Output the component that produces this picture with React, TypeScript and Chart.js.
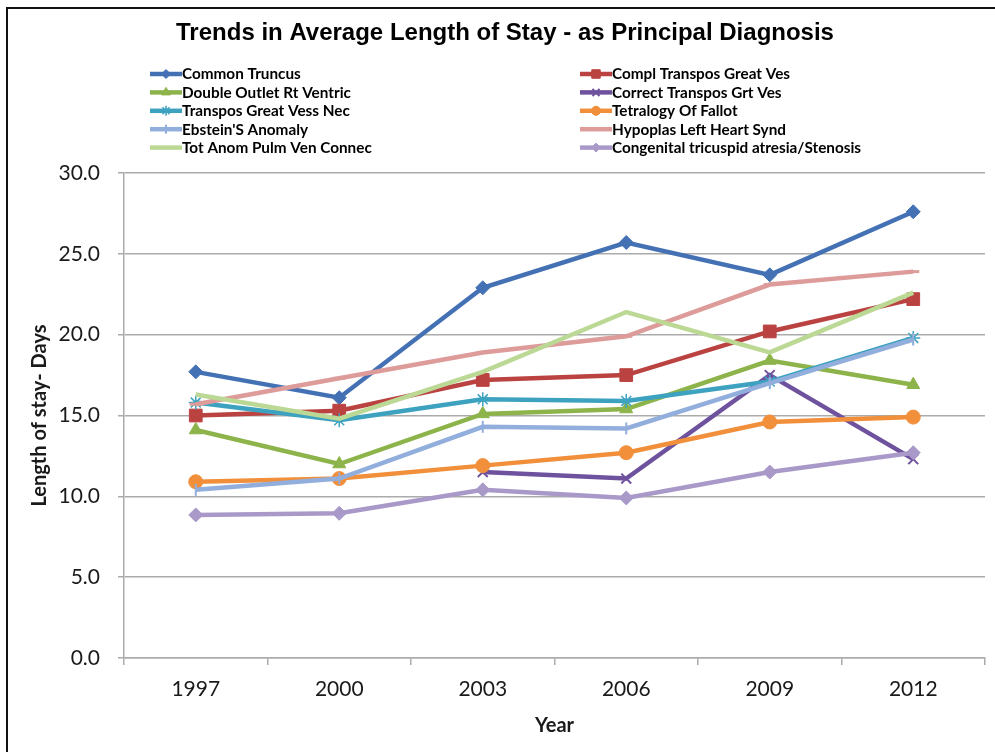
import { useEffect, useRef } from 'react';
import { Chart, registerables } from 'chart.js';
import { drawPoint } from 'chart.js/helpers';

Chart.register(...registerables);

// Survey years on the category axis
const years = ['1997', '2000', '2003', '2006', '2009', '2012'];

// Average length of stay (days) per diagnosis
const commonTruncus = [17.7, 16.1, 22.9, 25.7, 23.7, 27.6];
const complTransposGreatVes = [15.0, 15.3, 17.2, 17.5, 20.2, 22.2];
const doubleOutletRtVentric = [14.1, 12.0, 15.1, 15.4, 18.4, 16.9];
const correctTransposGrtVes = [null, null, 11.5, 11.1, 17.5, 12.3];
const transposGreatVessNec = [15.8, 14.7, 16.0, 15.9, 17.1, 19.8];
const tetralogyOfFallot = [10.9, 11.1, 11.9, 12.7, 14.6, 14.9];
const ebsteinsAnomaly = [10.4, 11.1, 14.3, 14.2, 17.0, 19.7];
const hypoplasLeftHeart = [15.7, 17.3, 18.9, 19.9, 23.1, 23.9];
const totAnomPulmVen = [16.3, 14.8, 17.7, 21.4, 18.9, 22.6];
const congenitalTricuspid = [8.85, 8.95, 10.4, 9.9, 11.5, 12.7];

// Value axis ticks
const yMin = 0;
const yMax = 30;
const yStep = 5;

const chartTitle = 'Trends in Average Length of Stay - as Principal Diagnosis';
const yTitle = 'Length of stay- Days';
const xTitle = 'Year';

type SeriesDef = {
  label: string;
  data: (number | null)[];
  color: string;
  pointStyle: any;
  radius: number;
  rotation?: number;
  pointBorderWidth: number;
  legendRadius: number;
};

const series: SeriesDef[] = [
  { label: 'Common Truncus', data: commonTruncus, color: '#4371B4', pointStyle: 'rectRot', radius: 7, pointBorderWidth: 1, legendRadius: 4.5 },
  { label: 'Compl Transpos Great Ves', data: complTransposGreatVes, color: '#BA4341', pointStyle: 'rect', radius: 9, pointBorderWidth: 1, legendRadius: 6 },
  { label: 'Double Outlet Rt Ventric', data: doubleOutletRtVentric, color: '#8DB44B', pointStyle: 'triangle', radius: 7.5, pointBorderWidth: 1, legendRadius: 5 },
  { label: 'Correct Transpos Grt Ves', data: correctTransposGrtVes, color: '#6E529E', pointStyle: 'crossRot', radius: 7, pointBorderWidth: 2, legendRadius: 5 },
  { label: 'Transpos Great Vess Nec', data: transposGreatVessNec, color: '#3DA2C0', pointStyle: 'star', radius: 7, pointBorderWidth: 1.5, legendRadius: 5 },
  { label: 'Tetralogy Of Fallot', data: tetralogyOfFallot, color: '#F18F3B', pointStyle: 'circle', radius: 7, pointBorderWidth: 1, legendRadius: 4.5 },
  { label: "Ebstein'S Anomaly", data: ebsteinsAnomaly, color: '#92AEDC', pointStyle: 'line', rotation: 90, radius: 6, pointBorderWidth: 2, legendRadius: 4.5 },
  { label: 'Hypoplas Left Heart Synd', data: hypoplasLeftHeart, color: '#DD9B9A', pointStyle: 'line', radius: 6, pointBorderWidth: 3, legendRadius: 0 },
  { label: 'Tot Anom Pulm Ven Connec', data: totAnomPulmVen, color: '#BCD895', pointStyle: false, radius: 0, pointBorderWidth: 0, legendRadius: 0 },
  { label: 'Congenital tricuspid atresia/Stenosis', data: congenitalTricuspid, color: '#A999C9', pointStyle: 'rectRot', radius: 7, pointBorderWidth: 1, legendRadius: 4.5 },
];

const GRID = '#ABABAB';
const TEXT = '#1A1A1A';

// Draws the heading and the two-column legend above the plot
const headerPlugin = {
  id: 'header',
  afterDraw(chart: any) {
    const ctx: CanvasRenderingContext2D = chart.ctx;
    ctx.save();
    ctx.fillStyle = '#000';
    ctx.font = 'bold 24px "Liberation Sans", Arial, sans-serif';
    ctx.textAlign = 'center';
    ctx.textBaseline = 'middle';
    ctx.fillText(chartTitle, 505, 33);

    series.forEach((s, i) => {
      const col = i % 2;
      const row = Math.floor(i / 2);
      const x0 = col ? 580 : 150;
      const y = 74 + row * 18.4;
      ctx.strokeStyle = s.color;
      ctx.lineWidth = 4.5;
      ctx.lineCap = 'butt';
      ctx.beginPath();
      ctx.moveTo(x0, y);
      ctx.lineTo(x0 + 32, y);
      ctx.stroke();
      if (s.pointStyle && s.legendRadius > 0) {
        ctx.fillStyle = s.color;
        ctx.strokeStyle = s.color;
        ctx.lineWidth = Math.max(1, s.pointBorderWidth);
        drawPoint(ctx, { pointStyle: s.pointStyle, rotation: s.rotation || 0, radius: s.legendRadius, borderWidth: Math.max(1, s.pointBorderWidth) } as any, x0 + 16, y);
      }
      ctx.fillStyle = '#000';
      ctx.font = 'bold 15.3px Lato, "Open Sans", sans-serif';
      ctx.textAlign = 'left';
      ctx.textBaseline = 'middle';
      ctx.fillText(s.label, x0 + 32, y + 0.5);
    });
    ctx.restore();
  },
};

export default function App() {
  const canvasRef = useRef<HTMLCanvasElement | null>(null);

  useEffect(() => {
    if (!canvasRef.current) return;
    const n = series.length;
    const chart = new Chart(canvasRef.current, {
      type: 'line',
      data: {
        labels: years,
        datasets: series.map((s, i) => ({
          label: s.label,
          data: s.data,
          borderColor: s.color,
          backgroundColor: s.color,
          borderWidth: 4.5,
          tension: 0,
          fill: false,
          spanGaps: false,
          order: n - i,
          pointStyle: s.pointStyle,
          pointRotation: s.rotation || 0,
          pointRadius: s.radius,
          pointHoverRadius: s.radius,
          pointBackgroundColor: s.color,
          pointBorderColor: s.color,
          pointBorderWidth: s.pointBorderWidth,
        })),
      },
      options: {
        responsive: false,
        animation: false,
        events: [],
        layout: { padding: { top: 173, right: 8, bottom: 0, left: 0 } },
        plugins: {
          legend: { display: false },
          title: { display: false },
          tooltip: { enabled: false },
        },
        scales: {
          x: {
            type: 'category',
            offset: true,
            afterFit: (scale: any) => {
              scale.height = 94;
            },
            grid: {
              offset: true,
              drawOnChartArea: false,
              drawTicks: true,
              tickLength: 7,
              color: GRID,
              lineWidth: 1.5,
            },
            border: { display: true, color: GRID, width: 1.5 },
            ticks: {
              color: TEXT,
              padding: 12,
              font: { family: 'Lato, "Open Sans", sans-serif', size: 21 },
            },
            title: {
              display: true,
              text: xTitle,
              color: TEXT,
              font: { family: 'Lato, "Open Sans", sans-serif', size: 20, weight: 'bold' },
              padding: { top: 0, bottom: 14 },
            },
          },
          y: {
            min: yMin,
            max: yMax,
            afterFit: (scale: any) => {
              scale.width = 124;
            },
            grid: {
              color: GRID,
              lineWidth: 1.5,
              drawTicks: true,
              tickLength: 6,
            },
            border: { display: true, color: GRID, width: 1.5 },
            ticks: {
              stepSize: yStep,
              color: TEXT,
              padding: 18,
              font: { family: 'Lato, "Open Sans", sans-serif', size: 21 },
              callback: (v: any) => Number(v).toFixed(1),
            },
            title: {
              display: true,
              text: yTitle,
              color: TEXT,
              font: { family: 'Lato, "Open Sans", sans-serif', size: 20, weight: 'bold' },
              padding: { top: 28, bottom: 0 },
            },
          },
        },
      },
      plugins: [headerPlugin],
    });
    return () => chart.destroy();
  }, []);

  return (
    <div style={{ position: 'absolute', left: 0, top: 0, width: 995, height: 752, overflow: 'hidden', background: '#fff' }}>
      <div style={{ position: 'absolute', left: 6, top: 7, width: 1200, height: 1000, borderLeft: '2px solid #111', borderTop: '2px solid #111' }} />
      <canvas ref={canvasRef} width={995} height={752} style={{ position: 'absolute', left: 0, top: 0, display: 'block' }} />
    </div>
  );
}
